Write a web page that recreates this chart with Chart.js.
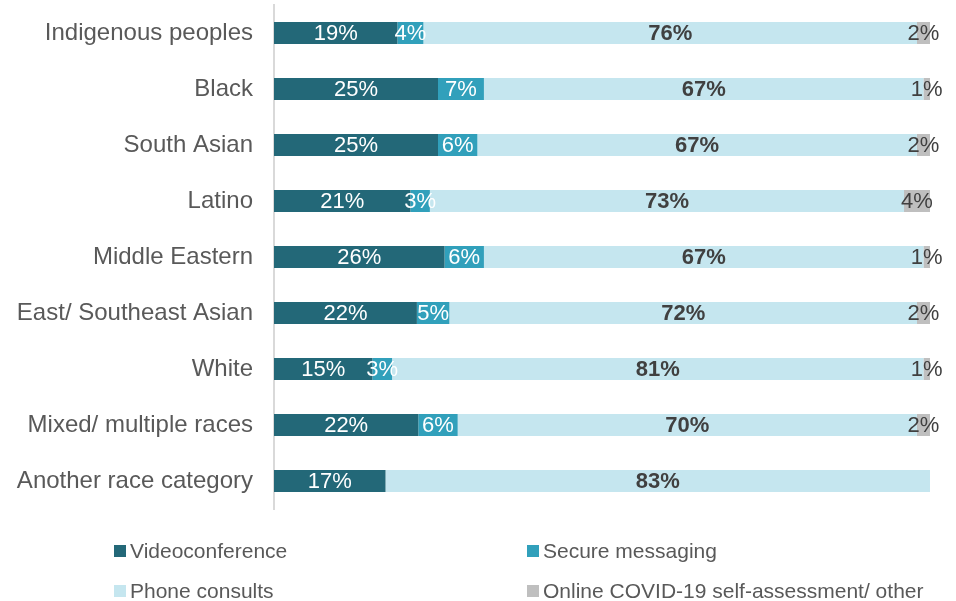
<!DOCTYPE html>
<html>
<head>
<meta charset="utf-8">
<script src="https://cdn.jsdelivr.net/npm/chart.js@4"></script>
<style>
  body { margin: 0; background: #fff; font-family: "Liberation Sans", Arial, sans-serif; }
  #wrap { position: relative; width: 956px; height: 520px; }
  #legend { position: absolute; left: 0; top: 0; width: 956px; height: 601px; pointer-events: none; }
  .item { position: absolute; display: flex; align-items: center; font-size: 21px; color: #595959; white-space: nowrap; }
  .box { width: 12px; height: 12px; margin-right: 4px; }
</style>
</head>
<body>
<div id="wrap"><canvas id="chart"></canvas></div>
<div id="legend"></div>
<script>
// Categories and series (percent)
const categories = ["Indigenous peoples", "Black", "South Asian", "Latino", "Middle Eastern",
  "East/ Southeast Asian", "White", "Mixed/ multiple races", "Another race category"];
const videoconference = [19, 25, 25, 21, 26, 22, 15, 22, 17];
const secureMessaging = [4, 7, 6, 3, 6, 5, 3, 6, 0];
const phoneConsults = [76, 67, 67, 73, 67, 72, 81, 70, 83];
const onlineOther = [2, 1, 2, 4, 1, 2, 1, 2, 0];

const seriesNames = ["Videoconference", "Secure messaging", "Phone consults", "Online COVID-19 self-assessment/ other"];
const seriesData = [videoconference, secureMessaging, phoneConsults, onlineOther];
const colors = ["#236878", "#31a0bb", "#c5e6ef", "#bfbfbf"];
const labelColors = ["#ffffff", "#ffffff", "#404040", "#404040"];
const labelBold = [false, false, true, false];

// 100% stacked: each row scaled by its total
const rowTotals = categories.map((c, i) => seriesData.reduce((s, arr) => s + arr[i], 0));

const datasets = seriesData.map((arr, k) => ({
  label: seriesNames[k],
  raw: arr,
  data: arr.map((v, i) => v / rowTotals[i] * 100),
  backgroundColor: colors[k],
  barPercentage: 0.393,
  categoryPercentage: 1.0
}));

// value labels drawn on each segment
const valueLabels = {
  id: "valueLabels",
  afterDatasetsDraw(chart) {
    const ctx = chart.ctx;
    ctx.save();
    ctx.textAlign = "center";
    ctx.textBaseline = "middle";
    chart.data.datasets.forEach((ds, k) => {
      const meta = chart.getDatasetMeta(k);
      meta.data.forEach((el, i) => {
        const v = ds.raw[i];
        if (!v) return;
        ctx.font = (labelBold[k] ? "bold " : "") + "22px 'Liberation Sans', Arial, sans-serif";
        ctx.fillStyle = labelColors[k];
        ctx.fillText(v + "%", (el.x + el.base) / 2, el.y + 1);
      });
    });
    ctx.restore();
  }
};

new Chart(document.getElementById("chart"), {
  type: "bar",
  data: { labels: categories, datasets: datasets },
  options: {
    indexAxis: "y",
    responsive: true,
    maintainAspectRatio: false,
    animation: false,
    layout: { padding: { top: 5, bottom: 11, right: 26, left: 0 } },
    plugins: { legend: { display: false }, tooltip: { enabled: false } },
    scales: {
      x: { stacked: true, min: 0, max: 100, display: false },
      y: {
        stacked: true,
        afterFit(scale) {
          scale.width = 274;
          scale.paddingTop = 0;
          scale.paddingBottom = 0;
        },
        grid: { display: false, drawTicks: false },
        border: { display: true, color: "#d9d9d9", width: 2 },
        ticks: {
          padding: 21,
          color: "#595959",
          font: { family: "'Liberation Sans', Arial, sans-serif", size: 24 }
        }
      }
    }
  },
  plugins: [valueLabels]
});

// legend in two columns
const legend = document.getElementById("legend");
const pos = [[114, 551], [527, 551], [114, 591], [527, 591]];
seriesNames.forEach((name, k) => {
  const d = document.createElement("div");
  d.className = "item";
  d.style.left = pos[k][0] + "px";
  d.style.top = (pos[k][1] - 13) + "px";
  d.style.height = "26px";
  d.innerHTML = '<span class="box" style="background:' + colors[k] + '"></span><span>' + name + '</span>';
  legend.appendChild(d);
});
</script>
</body>
</html>
